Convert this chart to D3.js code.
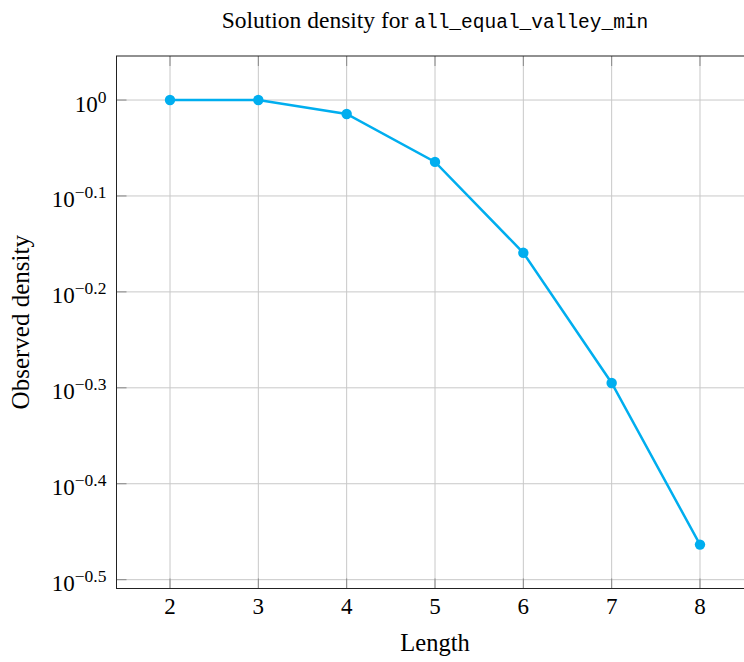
<!DOCTYPE html>
<html>
<head>
<meta charset="utf-8">
<script src="https://cdn.jsdelivr.net/npm/d3@7"></script>
<style>
  body { margin: 0; background: #fff; }
  text { font-family: "Liberation Serif", "DejaVu Serif", serif; fill: #000; }
  .mono { font-family: "Liberation Mono", "DejaVu Sans Mono", monospace; }
</style>
</head>
<body>
<div id="chart"></div>
<script>
// data
const lengths = [2, 3, 4, 5, 6, 7, 8];
const density = [1.0, 1.0, 0.967, 0.862, 0.693, 0.507, 0.344];
const xTicks = [2, 3, 4, 5, 6, 7, 8];
const yTickExps = [0, -0.1, -0.2, -0.3, -0.4, -0.5];

const W = 744, H = 662;
const margin = {top: 56, left: 116.5, bottom: 73.5};
const plotRight = 753.5;

const svg = d3.select('#chart').append('svg')
    .attr('width', W)
    .attr('height', H);

const x = d3.scaleLinear()
    .domain([1.3943, 8.6057])
    .range([margin.left, plotRight]);

const y = d3.scaleLog()
    .domain([Math.pow(10, -0.5092), Math.pow(10, 0.0459)])
    .range([H - margin.bottom, margin.top]);

const yTop = margin.top, yBottom = H - margin.bottom;

// grid
const grid = svg.append('g');
grid.selectAll('.vg').data(xTicks).join('line')
    .attr('x1', d => x(d)).attr('x2', d => x(d))
    .attr('y1', yTop).attr('y2', yBottom)
    .attr('stroke', '#c8c8c8').attr('stroke-width', 1);
grid.selectAll('.hg').data(yTickExps).join('line')
    .attr('x1', margin.left).attr('x2', plotRight)
    .attr('y1', d => y(Math.pow(10, d))).attr('y2', d => y(Math.pow(10, d)))
    .attr('stroke', '#c8c8c8').attr('stroke-width', 1);

// inner tick marks (pgfplots style)
const ticks = svg.append('g').attr('stroke', '#888').attr('stroke-width', 1);
xTicks.forEach(d => {
  ticks.append('line').attr('x1', x(d)).attr('x2', x(d)).attr('y1', yBottom).attr('y2', yBottom - 10);
  ticks.append('line').attr('x1', x(d)).attr('x2', x(d)).attr('y1', yTop).attr('y2', yTop + 10);
});
yTickExps.forEach(d => {
  ticks.append('line').attr('x1', margin.left).attr('x2', margin.left + 10)
    .attr('y1', y(Math.pow(10, d))).attr('y2', y(Math.pow(10, d)));
});

// frame
svg.append('rect')
    .attr('x', margin.left).attr('y', yTop)
    .attr('width', plotRight - margin.left).attr('height', yBottom - yTop)
    .attr('fill', 'none').attr('stroke', '#222').attr('stroke-width', 1);

// x tick labels
svg.selectAll('.xl').data(xTicks).join('text')
    .attr('x', d => x(d)).attr('y', yBottom + 25)
    .attr('text-anchor', 'middle')
    .style('font-size', '23px')
    .text(d => d);

// y tick labels: 10^e
const yl = svg.selectAll('.yl').data(yTickExps).join('text')
    .attr('x', margin.left - 10).attr('y', d => y(Math.pow(10, d)) + 11.5)
    .attr('text-anchor', 'end')
    .style('font-size', '23px');
yl.append('tspan').text('10');
yl.append('tspan')
    .attr('dy', -9)
    .style('font-size', '17.5px')
    .text(d => d === 0 ? '0' : '\u2212' + Math.abs(d).toFixed(1));

// line + markers
const pts = lengths.map((l, i) => [l, density[i]]);
svg.append('path')
    .datum(pts)
    .attr('fill', 'none')
    .attr('stroke', '#00aeef')
    .attr('stroke-width', 2.5)
    .attr('d', d3.line().x(d => x(d[0])).y(d => y(d[1])));
svg.selectAll('.pt').data(pts).join('circle')
    .attr('cx', d => x(d[0])).attr('cy', d => y(d[1]))
    .attr('r', 5.2)
    .attr('fill', '#00aeef');

// titles
const title = svg.append('text')
    .attr('x', 435).attr('y', 28)
    .attr('text-anchor', 'middle')
    .style('font-size', '23.5px');
title.append('tspan').text('Solution density for ');
title.append('tspan').attr('class', 'mono').style('font-size', '19.5px').text('all_equal_valley_min');

svg.append('text')
    .attr('x', 435).attr('y', 651)
    .attr('text-anchor', 'middle')
    .style('font-size', '24.5px')
    .text('Length');

svg.append('text')
    .attr('transform', `translate(29, ${(yTop + yBottom) / 2}) rotate(-90)`)
    .attr('text-anchor', 'middle')
    .style('font-size', '25px')
    .text('Observed density');
</script>
</body>
</html>
